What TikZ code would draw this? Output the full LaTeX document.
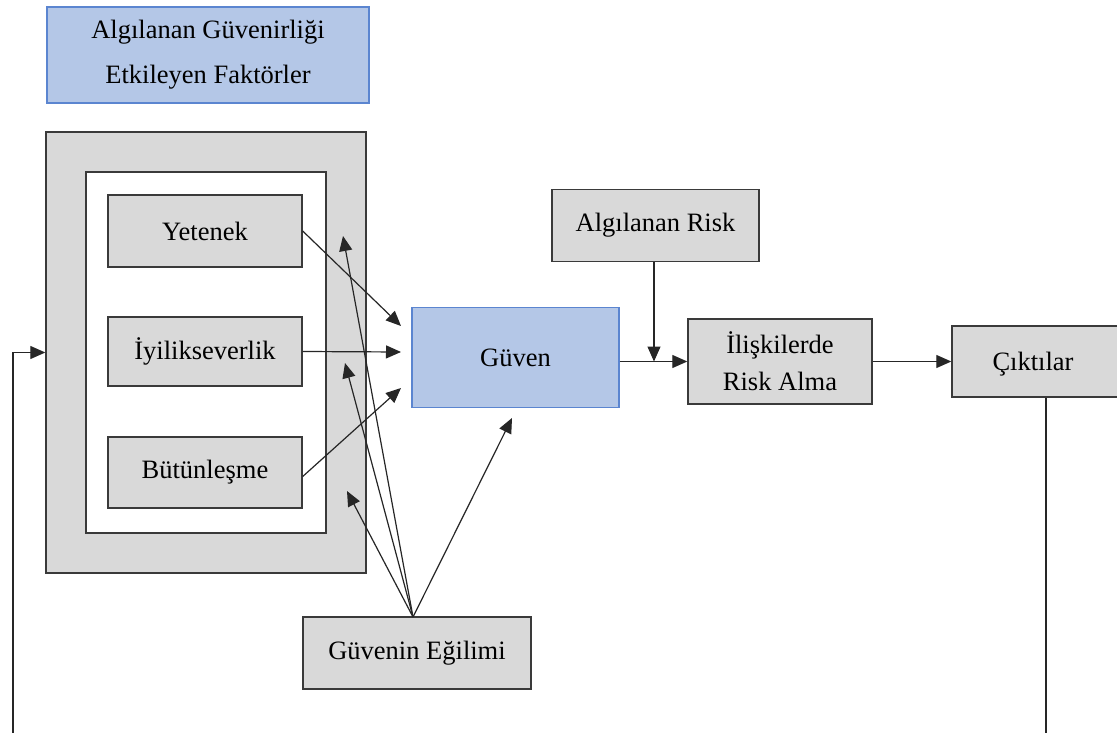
\documentclass[tikz,border=0pt]{standalone}
\usepackage{fontspec}
\setmainfont{Liberation Serif}
\usetikzlibrary{arrows.meta}
\definecolor{boxgray}{HTML}{D9D9D9}
\definecolor{boxblue}{HTML}{B4C7E7}
\definecolor{blueline}{HTML}{5B85D0}
\definecolor{grayline}{HTML}{3A3A3A}
\begin{document}
\begin{tikzpicture}[x=1pt,y=-1pt,
  gbox/.style={draw=grayline, line width=1.4pt, fill=boxgray, inner sep=0pt, align=center,
    font=\fontsize{26.5}{37}\selectfont},
  bbox/.style={draw=blueline, line width=1.2pt, fill=boxblue, inner sep=0pt, align=center,
    font=\fontsize{26.5}{37}\selectfont},
  arr/.style={-{Triangle[length=15pt,width=13pt]}, line width=1.2pt, draw=black!85},
  ln/.style={line width=1.2pt, draw=black!85}]
\clip (0,0) rectangle (1117,733);
\fill[white] (0,0) rectangle (1117,733);
% boxes
\node[bbox, minimum width=322pt, minimum height=96pt, font=\fontsize{26.5}{45}\selectfont] (title) at (208,55) {Algılanan Güvenirliği\\Etkileyen Faktörler};
\node[gbox, minimum width=320pt, minimum height=441pt] (outer) at (206,352.5) {};
\node[draw=grayline, fill=white, line width=1.4pt, inner sep=0pt, minimum width=240pt, minimum height=361pt] (inner) at (206,352.5) {};
\node[gbox, minimum width=194pt, minimum height=72pt] (yet) at (205,231) {Yetenek};
\node[gbox, minimum width=194pt, minimum height=69pt] (iyi) at (205,351.5) {İyilikseverlik};
\node[gbox, minimum width=194pt, minimum height=71pt] (but) at (205,472.5) {Bütünleşme};
\node[bbox, minimum width=207pt, minimum height=100pt] (guven) at (515.5,357.5) {Güven};
\node[gbox, minimum width=207pt, minimum height=72pt] (risk) at (655.5,225.5) {Algılanan Risk};
\node[gbox, minimum width=184pt, minimum height=85pt] (iliski) at (780,361.5) {İlişkilerde\\Risk Alma};
\node[gbox, minimum width=174pt, minimum height=71pt, text depth=0pt] (cikti) at (1039,361.5) {\hspace*{-12pt}Çıktılar};
\node[gbox, minimum width=228pt, minimum height=72pt] (egil) at (417,653) {Güvenin Eğilimi};
% coordinates
\coordinate (gY) at (401,326);
\coordinate (gI) at (401,352);
\coordinate (gB) at (401,388);
\coordinate (apex) at (413,617);
\coordinate (e1) at (343,236);
\coordinate (e2) at (345,363);
\coordinate (e3) at (347,491);
\coordinate (e4) at (512,418);
\coordinate (cb) at (1046,740);
\coordinate (fb) at (13,740);
% connectors
\draw[arr] (yet.east) -- (gY);
\draw[arr] (iyi.east) -- (gI);
\draw[arr] ([yshift=-4pt]but.east) -- (gB);
\draw[arr] (apex) -- (e1);
\draw[arr] (apex) -- (e2);
\draw[arr] (apex) -- (e3);
\draw[arr] (apex) -- (e4);
\draw[arr] (guven.east |- iliski.west) -- (iliski.west);
\draw[arr] ([xshift=-1.5pt]risk.south) -- ([xshift=-1.5pt]risk.south |- iliski.west);
\draw[arr] (iliski.east) -- (cikti.west);
\draw[ln] (cikti.south -| cb) -- (cb);
\draw[arr] (fb) |- (outer.west);
\end{tikzpicture}
\end{document}
